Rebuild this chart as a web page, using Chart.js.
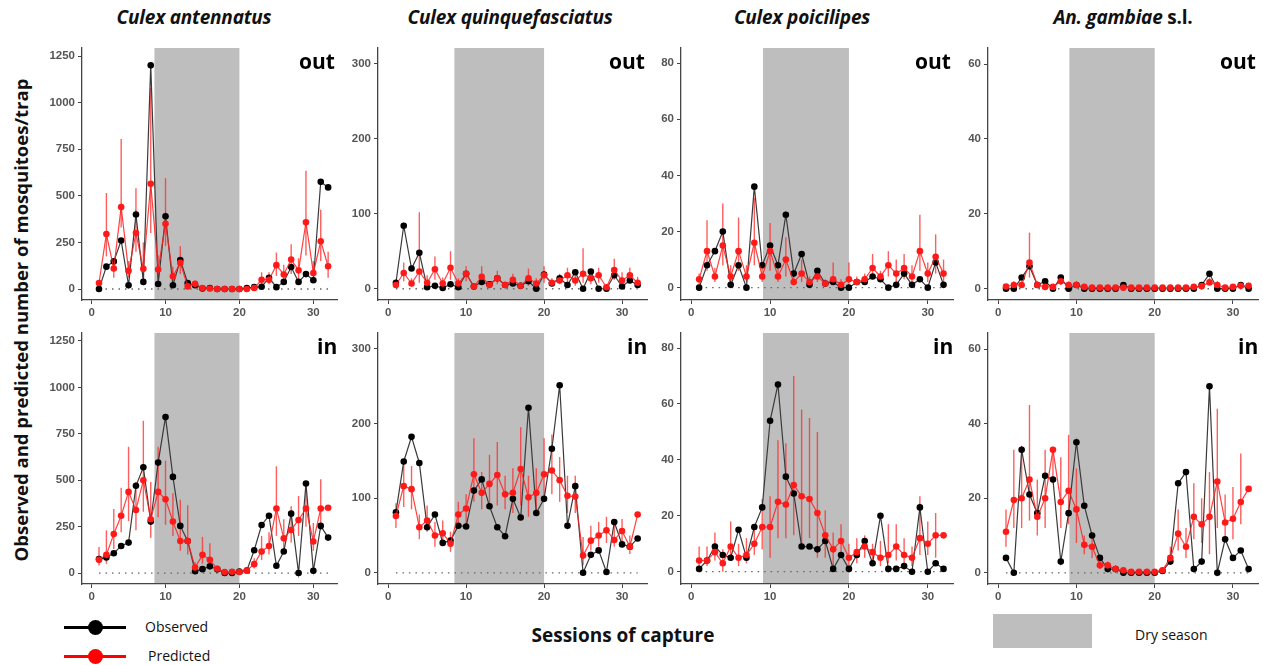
<!DOCTYPE html>
<html>
<head>
<meta charset="utf-8">
<script src="https://cdn.jsdelivr.net/npm/chart.js@4.4.1/dist/chart.umd.min.js"></script>
<style>
  body { margin: 0; background: #fff; }
  #wrap { position: relative; width: 1263px; height: 665px; overflow: hidden; font-family: "Open Sans", sans-serif; }
  canvas.panel { position: absolute; }
  .title { position: absolute; top: 4px; font-weight: 700; font-style: italic; font-size: 19px; color: #111; transform: translateX(-50%); white-space: nowrap; letter-spacing: -0.2px; }
  .tag { position: absolute; font-weight: 700; font-size: 21px; color: #000; }
  .ylab { position: absolute; left: 20px; top: 320px; width: 580px; text-align: center; font-weight: 700; font-size: 18.5px; color: #111;
          transform: translate(-50%, -50%) rotate(-90deg); white-space: nowrap; }
  .xlab { position: absolute; left: 623px; top: 622px; transform: translateX(-50%); font-weight: 700; font-size: 19px; color: #111; }
  .leg { position: absolute; font-size: 14px; color: #111; }
  .legline { position: absolute; height: 3px; width: 62px; }
  .legdot { position: absolute; width: 15px; height: 15px; border-radius: 50%; }
</style>
</head>
<body>
<div id="wrap">
  <div class="title" style="left:194px">Culex antennatus</div>
  <div class="title" style="left:510px">Culex quinquefasciatus</div>
  <div class="title" style="left:802px">Culex poicilipes</div>
  <div class="title" style="left:1123px">An. gambiae <span style="font-style:normal">s.l.</span></div>

  <div class="ylab">Observed and predicted number of mosquitoes/trap</div>
  <div class="xlab">Sessions of capture</div>

  <div class="legline" style="left:64px;top:626px;background:#000"></div>
  <div class="legdot" style="left:88px;top:620px;background:#000"></div>
  <div class="leg" style="left:145px;top:617px">Observed</div>
  <div class="legline" style="left:64px;top:655px;background:#f00"></div>
  <div class="legdot" style="left:88px;top:649px;background:#f00"></div>
  <div class="leg" style="left:148px;top:646px">Predicted</div>
  <div style="position:absolute;left:993px;top:614px;width:99px;height:34px;background:#bebebe"></div>
  <div class="leg" style="left:1135px;top:625px">Dry season</div>
</div>
<script>
// sessions of capture
const sessions = [1,2,3,4,5,6,7,8,9,10,11,12,13,14,15,16,17,18,19,20,21,22,23,24,25,26,27,28,29,30,31,32];

// Culex antennatus
const antOutObs  = [0,120,148,260,20,400,38,1200,27,390,20,155,32,20,3,5,0,0,0,0,5,10,12,60,10,38,118,38,80,47,575,545];
const antOutPred = [32,295,110,440,98,300,108,565,105,350,68,140,14,28,5,3,0,0,0,0,0,5,50,50,128,78,158,100,358,86,256,122];
const antOutLo   = [20,175,60,330,60,200,60,300,60,230,40,80,5,15,2,1,0,0,0,0,0,2,20,25,70,45,80,50,180,50,150,60];
const antOutHi   = [45,515,160,805,150,540,250,1080,180,595,120,230,30,45,10,8,2,2,2,2,3,10,90,90,195,130,240,165,635,150,425,200];
const antInObs   = [75,84,107,146,164,470,570,277,595,840,518,254,173,10,21,36,20,0,0,8,14,123,259,309,39,116,320,0,482,12,254,191];
const antInPred  = [71,98,210,309,437,340,500,290,437,397,277,173,173,30,98,71,23,5,7,6,14,48,116,146,348,187,232,286,348,170,348,352];
const antInLo    = [40,50,130,220,280,230,330,190,300,260,200,120,100,10,50,30,10,2,2,2,8,25,70,100,200,130,165,200,250,120,230,352];
const antInHi    = [140,230,345,460,680,490,820,490,680,605,430,395,365,60,195,160,40,10,15,12,20,80,200,220,575,290,360,415,475,270,505,352];

// Culex quinquefasciatus
const quiOutObs  = [8,84,27,48,2,4,1,6,2,20,3,9,6,14,5,7,4,10,0,19,7,14,5,22,0,23,0,0,18,3,11,5];
const quiOutPred = [5,21,7,23,8,26,7,28,7,20,3,16,5,14,5,12,4,14,7,18,8,11,18,11,20,14,18,2,25,11,18,8];
const quiOutLo   = [2,10,3,8,4,12,3,12,3,10,1,8,2,6,2,5,1,4,2,8,4,6,8,4,8,6,8,0,12,4,8,4];
const quiOutHi   = [12,35,14,102,18,43,15,50,14,30,6,30,9,24,9,20,8,27,14,30,14,20,28,25,54,26,28,5,40,22,28,16];
const quiInObs   = [81,149,182,147,61,78,40,43,63,62,110,125,89,61,49,99,74,221,80,99,166,251,63,116,0,24,30,1,68,38,35,46];
const quiInPred  = [76,116,112,61,70,50,53,39,78,86,132,107,119,131,105,107,139,101,107,132,137,124,103,102,23,43,50,57,44,56,35,78];
const quiInLo    = [60,88,85,45,55,35,40,28,60,65,95,85,85,90,85,80,90,75,80,95,105,95,80,80,10,30,35,40,35,40,25,78];
const quiInHi    = [93,150,143,78,90,68,70,55,95,105,180,135,158,175,130,140,195,130,140,180,185,155,130,130,48,63,68,75,70,72,50,78];

// Culex poicilipes
const poiOutObs  = [0,8,13,20,1,8,0,36,8,15,8,26,5,12,1,6,1.5,2,0,0,2,2,4,3,0,1,5,1,3,0,9,1];
const poiOutPred = [3,13,4,15,4,13,4,16,4,13,4,10,2,5,2,4,1.5,3,1,3,2,3,7,4,8,5,7,4,13,5,11,5];
const poiOutLo   = [1,6,2,8,2,6,2,8,2,6,2,4,1,2,1,2,1,1,0,1,1,1,3,2,4,2,3,2,6,2,5,2];
const poiOutHi   = [5,24,7,30,8,25,8,32,8,23,8,18,4,10,4,7,3,9,3,9,4,5,12,6,13,10,12,8,26,9,19,10];
const poiInObs   = [1,4,9,6,5,15,5,16,23,54,67,34,28,9,9,8,11,1,6,1,6,11,3,20,1,1,2,0,23,0,3,1];
const poiInPred  = [4,4,7,3,9,5,6,10,16,16,25,24,31,27,26,21,13,8,11,5,7,9,7,5,6,9,6,5,12,10,13,13];
const poiInLo    = [2,2,4,0,4,2,3,6,8,5,12,12,13,10,12,5,5,2,5,1,3,5,3,2,3,4,3,2,6,6,5,13];
const poiInHi    = [9,9,14,8,18,10,12,16,26,27,47,46,70,58,55,50,22,14,17,10,12,13,10,11,17,17,12,9,27,18,21,13];

// An. gambiae s.l.
const gamOutObs  = [0,0,3,6,1,2,0,3,0,1,0,0,0,0,0,1,0,0,0,0,0,0,0,0,0,1,4,0,0,0,1,0];
const gamOutPred = [0.6,1,1,7,1,0.5,0.5,2,1,1,0.5,0.3,0.3,0.3,0.3,0.3,0.3,0.3,0.3,0.3,0.3,0.3,0.3,0.3,0.5,0.7,1.7,1,0.3,0.5,0.8,0.8];
const gamOutLo   = [0.3,0.5,0.5,3,0.5,0.2,0.2,1,0.5,0.5,0.2,0.1,0.1,0.1,0.1,0.1,0.1,0.1,0.1,0.1,0.1,0.1,0.1,0.1,0.2,0.3,1,0.5,0.1,0.2,0.4,0.4];
const gamOutHi   = [1.2,2,2,15,2,1,1,3,2,2,1,0.6,0.6,0.6,0.6,0.6,0.6,0.6,0.6,0.6,0.6,0.6,0.6,0.6,1,1.4,3,2,0.6,1,1.6,1.6];
const gamInObs   = [4,0,33,21,16,26,25,3,16,35,18,10,4,1,1,0,0,0,0,0,0.5,3,24,27,1,3,50,0,9,4,6,1];
const gamInPred  = [11,19.5,20,25,15,20,33,19,22,17,7.5,7,2,2,1,0.7,0.3,0.3,0.3,0.3,0.7,4,10.5,7,15,13,15,24.5,13.5,14.5,19,22.5];
const gamInLo    = [7,12,12,14,10,12,24,12,13,8,5,4,1,1,0.5,0.3,0,0,0,0,0.3,3,6,4,9,8,5,12,8,9,13,22.5];
const gamInHi    = [17,33,34,45,25,33,33,31,37,28,10,10,4,3,2,1.5,1,1,1,1,1.5,7,17,12,24,20,27,44,21,23,32,22.5];

// dry season span on the session axis
const dryA = [8.5, 20];
const dryB = [9.1, 20];

const AXIS_W = 45, XAXIS_H = 24, PAD_T = 10, PAD_R = 8;
const cols = [
  { left: 82,  right: 337,  ymin: -59,  ymax: 1293, step: 250, dry: dryA },
  { left: 378, right: 647,  ymin: -15,  ymax: 321,  step: 100, dry: dryA },
  { left: 681, right: 953,  ymin: -4.4, ymax: 85.4, step: 20,  dry: dryB },
  { left: 988, right: 1258, ymin: -3,   ymax: 64.3, step: 20,  dry: dryB }
];
const rows = [
  { top: 48,  bottom: 300, tag: 'out' },
  { top: 333, bottom: 584, tag: 'in' }
];
const panels = [
  [antOutObs, antOutPred, antOutLo, antOutHi], [quiOutObs, quiOutPred, quiOutLo, quiOutHi],
  [poiOutObs, poiOutPred, poiOutLo, poiOutHi], [gamOutObs, gamOutPred, gamOutLo, gamOutHi],
  [antInObs, antInPred, antInLo, antInHi], [quiInObs, quiInPred, quiInLo, quiInHi],
  [poiInObs, poiInPred, poiInLo, poiInHi], [gamInObs, gamInPred, gamInLo, gamInHi]
];

const panelDecor = {
  id: 'panelDecor',
  beforeDraw(chart, args, opts) {
    const { ctx, chartArea: a, scales: { x } } = chart;
    const x0 = x.getPixelForValue(opts.dry[0]);
    const x1 = x.getPixelForValue(opts.dry[1]);
    ctx.save();
    ctx.fillStyle = '#bebebe';
    ctx.fillRect(x0, a.top, x1 - x0, a.bottom - a.top);
    ctx.restore();
  },
  beforeDatasetsDraw(chart, args, opts) {
    const { ctx, scales: { x, y } } = chart;
    ctx.save();
    // dotted zero line
    ctx.strokeStyle = '#666';
    ctx.lineWidth = 1.3;
    ctx.setLineDash([1.5, 5]);
    ctx.beginPath();
    ctx.moveTo(x.getPixelForValue(sessions[0]), y.getPixelForValue(0));
    ctx.lineTo(x.getPixelForValue(sessions[sessions.length - 1]), y.getPixelForValue(0));
    ctx.stroke();
    ctx.setLineDash([]);
    // error bars of predictions
    ctx.strokeStyle = 'rgba(255,40,40,0.75)';
    ctx.lineWidth = 1.4;
    opts.lo.forEach((lo, i) => {
      const px = x.getPixelForValue(sessions[i]);
      ctx.beginPath();
      ctx.moveTo(px, y.getPixelForValue(lo));
      ctx.lineTo(px, y.getPixelForValue(opts.hi[i]));
      ctx.stroke();
    });
    ctx.restore();
  }
};

const tickFont = { family: 'Liberation Sans', size: 11.5, weight: 'bold' };
const wrap = document.getElementById('wrap');
panels.forEach((p, k) => {
  const c = cols[k % 4], r = rows[Math.floor(k / 4)];
  const [obs, pred, lo, hi] = p;
  const cv = document.createElement('canvas');
  cv.className = 'panel';
  const w = c.right - c.left + AXIS_W + PAD_R;
  const h = r.bottom - r.top + PAD_T + XAXIS_H;
  cv.style.left = (c.left - AXIS_W) + 'px';
  cv.style.top = (r.top - PAD_T) + 'px';
  cv.style.width = w + 'px';
  cv.style.height = h + 'px';
  cv.width = w; cv.height = h;
  wrap.appendChild(cv);

  const tag = document.createElement('div');
  tag.className = 'tag';
  tag.textContent = r.tag;
  tag.style.left = (c.right - (r.tag === 'out' ? 38 : 20)) + 'px';
  tag.style.top = (r.top - 1) + 'px';
  wrap.appendChild(tag);

  new Chart(cv.getContext('2d'), {
    type: 'line',
    data: {
      datasets: [
        {
          label: 'Observed',
          data: sessions.map((s, i) => ({ x: s, y: obs[i] })),
          borderColor: '#3a3a3a', backgroundColor: '#000', borderWidth: 1.2,
          pointRadius: 3.3, pointBorderWidth: 0, pointBackgroundColor: '#000', order: 2
        },
        {
          label: 'Predicted',
          data: sessions.map((s, i) => ({ x: s, y: pred[i] })),
          borderColor: 'rgba(255,30,30,0.85)', backgroundColor: '#f00', borderWidth: 1.2,
          pointRadius: 3.3, pointBorderWidth: 0, pointBackgroundColor: '#ff1a1a', order: 1
        }
      ]
    },
    options: {
      responsive: false,
      animation: false,
      layout: { padding: { top: PAD_T, right: PAD_R, left: 0, bottom: 0 } },
      plugins: {
        legend: { display: false },
        tooltip: { enabled: false },
        panelDecor: { dry: c.dry, lo, hi }
      },
      scales: {
        x: {
          type: 'linear', min: -1.3, max: 33.2,
          afterFit: (s) => { s.height = XAXIS_H; },
          ticks: { stepSize: 10, includeBounds: false, color: '#555', padding: 2, font: tickFont,
                   callback: (v) => String(v) },
          grid: { drawOnChartArea: false, drawTicks: true, tickLength: 4, color: '#444' },
          border: { display: true, color: '#444', width: 1.3 }
        },
        y: {
          min: c.ymin, max: c.ymax,
          afterFit: (s) => { s.width = AXIS_W; },
          ticks: { stepSize: c.step, includeBounds: false, color: '#555', padding: 3, font: tickFont,
                   callback: (v) => String(v) },
          grid: { drawOnChartArea: false, drawTicks: true, tickLength: 4, color: '#444' },
          border: { display: true, color: '#444', width: 1.3 }
        }
      }
    },
    plugins: [panelDecor]
  });
});
</script>
</body>
</html>
